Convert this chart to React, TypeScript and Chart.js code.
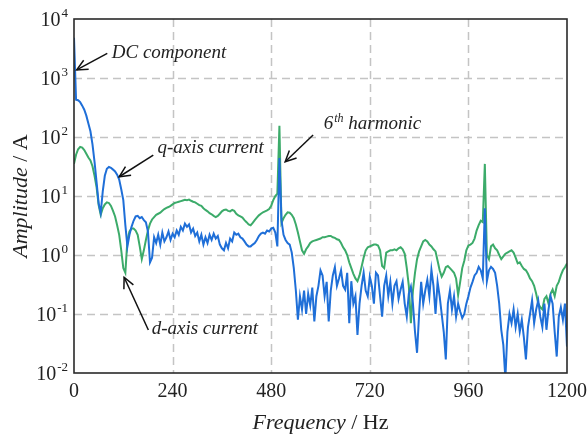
import React, { useEffect, useRef } from 'react';
import { Chart, registerables } from 'chart.js';

Chart.register(...registerables);

// Frequency bins (Hz)
const FREQ_HZ = [
  0, 5, 10, 15, 20, 25, 30, 35, 40, 45,
  50, 55, 60, 65, 70, 75, 80, 85, 90, 95,
  100, 105, 110, 115, 120, 125, 130, 135, 140, 145,
  150, 155, 160, 165, 170, 175, 180, 185, 190, 195,
  200, 205, 210, 215, 220, 225, 230, 235, 240, 245,
  250, 255, 260, 265, 270, 275, 280, 285, 290, 295,
  300, 305, 310, 315, 320, 325, 330, 335, 340, 345,
  350, 355, 360, 365, 370, 375, 380, 385, 390, 395,
  400, 405, 410, 415, 420, 425, 430, 435, 440, 445,
  450, 455, 460, 465, 470, 475, 480, 485, 490, 495,
  500, 505, 510, 515, 520, 525, 530, 535, 540, 545,
  550, 555, 560, 565, 570, 575, 580, 585, 590, 595,
  600, 605, 610, 615, 620, 625, 630, 635, 640, 645,
  650, 655, 660, 665, 670, 675, 680, 685, 690, 695,
  700, 705, 710, 715, 720, 725, 730, 735, 740, 745,
  750, 755, 760, 765, 770, 775, 780, 785, 790, 795,
  800, 805, 810, 815, 820, 825, 830, 835, 840, 845,
  850, 855, 860, 865, 870, 875, 880, 885, 890, 895,
  900, 905, 910, 915, 920, 925, 930, 935, 940, 945,
  950, 955, 960, 965, 970, 975, 980, 985, 990, 995,
  1000, 1005, 1010, 1015, 1020, 1025, 1030, 1035, 1040, 1045,
  1050, 1055, 1060, 1065, 1070, 1075, 1080, 1085, 1090, 1095,
  1100, 1105, 1110, 1115, 1120, 1125, 1130, 1135, 1140, 1145,
  1150, 1155, 1160, 1165, 1170, 1175, 1180, 1185, 1190, 1195,
  1200,
];

// q-axis current amplitude (A)
const Q_AXIS_CURRENT = [
  4800, 430, 420, 390, 340, 290, 230, 170, 125, 75,
  38, 17, 7.5, 5.2, 12, 22, 29, 31, 30, 28,
  26, 23, 19, 13, 8.5, 3.2, 1.4, 2.2, 3.0, 3.8,
  4.5, 4.6, 4.2, 4.4, 3.9, 3.6, 2.5, 0.75, 0.9, 2.0,
  1.6, 2.2, 1.5, 2.4, 1.7, 2.0, 2.5, 1.8, 2.3, 2.0,
  2.6, 2.2, 3.0, 2.6, 3.4, 3.0, 3.3, 2.4, 2.8, 2.1,
  2.4, 1.7, 2.2, 1.5, 2.0, 1.6, 2.2, 1.8, 2.3, 1.9,
  2.1, 1.5, 1.3, 1.2, 1.6, 1.3, 1.9, 1.7, 2.4, 2.2,
  2.3, 2.0, 1.9, 1.7, 1.5, 1.4, 1.4, 1.5, 1.6, 1.8,
  2.1, 2.3, 2.4, 2.3, 2.6, 2.5, 2.8, 2.9, 2.4, 1.4,
  44, 3.9, 2.2, 1.8, 1.6, 1.5, 1.1, 0.6, 0.25, 0.08,
  0.2, 0.12, 0.25, 0.1, 0.22, 0.14, 0.28, 0.075, 0.2, 0.3,
  0.55, 0.45, 0.2, 0.35, 0.075, 0.25, 0.45, 0.62, 0.3, 0.4,
  0.55, 0.3, 0.26, 0.5, 0.07, 0.36, 0.15, 0.2, 0.044, 0.15,
  0.3, 0.5, 0.25, 0.2, 0.43, 0.3, 0.15, 0.5, 0.45, 0.2,
  0.09, 0.3, 0.45, 0.2, 0.35, 0.15, 0.3, 0.36, 0.18, 0.26,
  0.35, 0.15, 0.09, 0.22, 0.29, 0.15, 0.05, 0.022, 0.1, 0.35,
  0.15, 0.25, 0.38, 0.2, 0.56, 0.3, 0.1, 0.35, 0.2, 0.1,
  0.05, 0.017, 0.15, 0.25, 0.12, 0.2, 0.09, 0.15, 0.11, 0.085,
  0.1, 0.15, 0.2, 0.28, 0.35, 0.45, 0.5, 0.63, 0.55, 0.4,
  6.2, 0.36, 0.55, 0.63, 0.58, 0.5, 0.3, 0.15, 0.054, 0.03,
  0.008, 0.05, 0.1, 0.07, 0.12, 0.06, 0.1, 0.05, 0.08, 0.04,
  0.017, 0.06, 0.1, 0.17, 0.07, 0.12, 0.17, 0.09, 0.06, 0.15,
  0.054, 0.12, 0.2, 0.15, 0.05, 0.019, 0.09, 0.13, 0.08, 0.15,
  0.028,
];

// d-axis current amplitude (A)
const D_AXIS_CURRENT = [
  35, 50, 62, 68, 66, 60, 52, 45, 40, 32,
  22, 14, 7, 4.8, 6.2, 7.2, 7.8, 7.6, 6.8, 5.6,
  4.5, 3.2, 2.2, 1.2, 0.6, 0.5, 1.8, 2.5, 2.8, 2.8,
  2.6, 2.2, 1.4, 0.85, 1.2, 1.8, 2.6, 3.4, 4.0, 4.4,
  4.8, 5.0, 5.2, 5.6, 6.0, 6.3, 6.5, 6.8, 7.2, 7.6,
  7.8, 8.0, 8.2, 8.4, 8.6, 8.5, 8.7, 8.3, 8.0, 7.8,
  7.4, 7.0, 6.8, 6.2, 5.8, 5.5, 5.1, 4.9, 4.6, 4.4,
  4.6, 5.0, 5.5, 5.8, 5.9, 5.6, 5.5, 5.8, 5.6, 5.0,
  4.7, 4.5, 4.3, 3.9, 3.6, 3.3, 3.2, 3.5, 3.9, 4.3,
  4.7, 5.0, 5.3, 5.5, 5.7, 6.0, 6.8, 8.5, 10, 11,
  155, 3.5, 4.2, 4.8, 5.3, 5.2, 4.8, 4.2, 3.3, 2.4,
  1.7, 1.2, 1.05, 1.25, 1.4, 1.6, 1.7, 1.75, 1.8, 1.85,
  1.9, 2.0, 2.0, 2.05, 2.1, 2.1, 2.0, 1.95, 1.85, 1.8,
  1.6, 1.35, 1.2, 1.0, 0.75, 0.6, 0.48, 0.4, 0.36, 0.45,
  0.63, 0.9, 1.2, 1.35, 1.4, 1.45, 1.5, 1.5, 1.45, 1.2,
  0.65, 0.6, 1.1, 1.15, 1.2, 1.2, 1.25, 1.2, 1.3, 1.35,
  1.25, 1.05, 0.6, 0.3, 0.07, 0.25, 0.5, 0.85, 1.15, 1.4,
  1.7, 1.8, 1.7, 1.5, 1.4, 1.25, 1.15, 0.8, 0.55, 0.43,
  0.5, 0.62, 0.65, 0.6, 0.55, 0.5, 0.4, 0.21, 0.35, 0.6,
  0.8, 1.2, 1.45, 1.5, 1.6, 1.9, 2.6, 3.2, 3.8, 3.6,
  35, 1.0, 0.85, 1.4, 1.5, 1.3, 1.2, 1.0, 0.85, 0.95,
  1.05, 1.1, 1.15, 1.2, 1.1, 0.9, 0.72, 0.75, 0.65, 0.58,
  0.55, 0.48, 0.4, 0.36, 0.3, 0.22, 0.15, 0.13, 0.12, 0.18,
  0.2, 0.15, 0.22, 0.26, 0.2, 0.3, 0.35, 0.45, 0.55, 0.62,
  0.72,
];

const X_TICKS = [0, 240, 480, 720, 960, 1200];
const Y_TICK_EXPONENTS = [-2, -1, 0, 1, 2, 3, 4];

// Annotations in data coordinates: text baseline-left, arrow tail and head
type Part = { t: string; sup?: boolean };
const ANNOTATIONS: { parts: Part[]; tx: number; ty: number; fx: number; fy: number; hx: number; hy: number }[] = [
  { parts: [{ t: 'DC component' }], tx: 92, ty: 2180, fx: 81, fy: 2620, hx: 6.5, hy: 1370 },
  { parts: [{ t: 'q-axis current' }], tx: 203, ty: 53, fx: 193, fy: 49.5, hx: 110, hy: 21.2 },
  { parts: [{ t: '6' }, { t: 'th', sup: true }, { t: ' harmonic' }], tx: 608, ty: 137, fx: 582, fy: 108, hx: 514, hy: 38 },
  { parts: [{ t: 'd-axis current' }], tx: 189, ty: 0.0458, fx: 181, fy: 0.0536, hx: 122, hy: 0.42 },
];

const BLUE = '#1f6fd8';
const GREEN = '#3cab6a';
const GRID = '#c4c4c4';
const SERIF = '"Liberation Serif", "Times New Roman", serif';

const decorPlugin = {
  id: 'decor',
  beforeDatasetsDraw(chart: any) {
    const { ctx, chartArea: a, scales } = chart;
    const x = scales.x;
    const y = scales.y;
    ctx.save();
    ctx.strokeStyle = GRID;
    ctx.lineWidth = 1.5;
    ctx.setLineDash([8, 5]);
    for (const t of X_TICKS) {
      const px = Math.round(x.getPixelForValue(t)) + 0.5;
      if (px < a.left + 2 || px > a.right - 2) continue;
      ctx.beginPath();
      ctx.moveTo(px, a.top);
      ctx.lineTo(px, a.bottom);
      ctx.stroke();
    }
    for (const e of Y_TICK_EXPONENTS) {
      const py = Math.round(y.getPixelForValue(Math.pow(10, e))) + 0.5;
      if (py < a.top + 2 || py > a.bottom - 2) continue;
      ctx.beginPath();
      ctx.moveTo(a.left, py);
      ctx.lineTo(a.right, py);
      ctx.stroke();
    }
    ctx.restore();
  },
  afterDatasetsDraw(chart: any) {
    const { ctx, chartArea: a, scales } = chart;
    const x = scales.x;
    const y = scales.y;
    ctx.save();
    // frame
    ctx.strokeStyle = '#2a2a2a';
    ctx.lineWidth = 1.6;
    ctx.setLineDash([]);
    ctx.strokeRect(a.left, a.top, a.right - a.left, a.bottom - a.top);

    ctx.fillStyle = '#222';
    ctx.textBaseline = 'alphabetic';
    // y tick labels
    for (const e of Y_TICK_EXPONENTS) {
      const py = y.getPixelForValue(Math.pow(10, e));
      const exp = String(e);
      ctx.font = `13px ${SERIF}`;
      const ew = ctx.measureText(exp).width;
      ctx.font = `20px ${SERIF}`;
      const bw = ctx.measureText('10').width;
      const right = a.left - 6;
      ctx.textAlign = 'left';
      ctx.fillText('10', right - ew - bw - 1, py + 6.5);
      ctx.font = `13px ${SERIF}`;
      ctx.fillText(exp, right - ew, py - 2.5);
    }
    // x tick labels
    ctx.font = `20px ${SERIF}`;
    ctx.textAlign = 'center';
    for (const t of X_TICKS) {
      ctx.fillText(String(t), x.getPixelForValue(t), a.bottom + 23.5);
    }

    // axis titles
    const drawMixed = (cx: number, cy: number, italic: string, upright: string, size: number) => {
      ctx.font = `italic ${size}px ${SERIF}`;
      const w1 = ctx.measureText(italic).width;
      ctx.font = `${size}px ${SERIF}`;
      const w2 = ctx.measureText(upright).width;
      const start = cx - (w1 + w2) / 2;
      ctx.textAlign = 'left';
      ctx.font = `italic ${size}px ${SERIF}`;
      ctx.fillText(italic, start, cy);
      ctx.font = `${size}px ${SERIF}`;
      ctx.fillText(upright, start + w1, cy);
    };
    drawMixed((a.left + a.right) / 2, 429, 'Frequency', ' / Hz', 22);
    ctx.save();
    ctx.translate(27, (a.top + a.bottom) / 2);
    ctx.rotate(-Math.PI / 2);
    drawMixed(0, 0, 'Amplitude', ' / A', 22);
    ctx.restore();

    // annotations
    for (const an of ANNOTATIONS) {
      const fx = x.getPixelForValue(an.fx);
      const fy = y.getPixelForValue(an.fy);
      const hx = x.getPixelForValue(an.hx);
      const hy = y.getPixelForValue(an.hy);
      ctx.strokeStyle = '#111';
      ctx.lineWidth = 1.5;
      ctx.beginPath();
      ctx.moveTo(fx, fy);
      ctx.lineTo(hx, hy);
      ctx.stroke();
      const ang = Math.atan2(fy - hy, fx - hx);
      const L = 12;
      const spread = 0.45;
      ctx.beginPath();
      ctx.moveTo(hx + L * Math.cos(ang - spread), hy + L * Math.sin(ang - spread));
      ctx.lineTo(hx, hy);
      ctx.lineTo(hx + L * Math.cos(ang + spread), hy + L * Math.sin(ang + spread));
      ctx.stroke();

      let px = x.getPixelForValue(an.tx);
      const py = y.getPixelForValue(an.ty);
      ctx.textAlign = 'left';
      ctx.fillStyle = '#222';
      for (const p of an.parts) {
        if (p.sup) {
          ctx.font = `italic 12px ${SERIF}`;
          ctx.fillText(p.t, px + 1, py - 7);
          px += ctx.measureText(p.t).width + 1;
        } else {
          ctx.font = `italic 19px ${SERIF}`;
          ctx.fillText(p.t, px, py);
          px += ctx.measureText(p.t).width;
        }
      }
    }
    ctx.restore();
  },
};

export default function App() {
  const ref = useRef<HTMLCanvasElement>(null);
  useEffect(() => {
    const canvas = ref.current;
    if (!canvas) return;
    const chart = new Chart(canvas, {
      type: 'line',
      data: {
        datasets: [
          {
            label: 'q-axis current',
            data: FREQ_HZ.map((f, i) => ({ x: f, y: Q_AXIS_CURRENT[i] })),
            borderColor: BLUE,
            borderWidth: 2,
            pointRadius: 0,
            tension: 0,
            fill: false,
          },
          {
            label: 'd-axis current',
            data: FREQ_HZ.map((f, i) => ({ x: f, y: D_AXIS_CURRENT[i] })),
            borderColor: GREEN,
            borderWidth: 2,
            pointRadius: 0,
            tension: 0,
            fill: false,
          },
        ],
      },
      options: {
        responsive: false,
        animation: false,
        devicePixelRatio: 1,
        events: [],
        layout: { padding: { left: 74, top: 19, right: 21, bottom: 68 } },
        plugins: { legend: { display: false }, tooltip: { enabled: false } },
        scales: {
          x: { type: 'linear', min: 0, max: 1200, display: false },
          y: { type: 'logarithmic', min: 0.01, max: 10000, display: false },
        },
      },
      plugins: [decorPlugin],
    } as any);
    return () => chart.destroy();
  }, []);
  return (
    <div style={{ position: 'fixed', left: 0, top: 0, width: 588, height: 441, background: '#fff' }}>
      <canvas ref={ref} width={588} height={441} style={{ display: 'block' }} />
    </div>
  );
}
